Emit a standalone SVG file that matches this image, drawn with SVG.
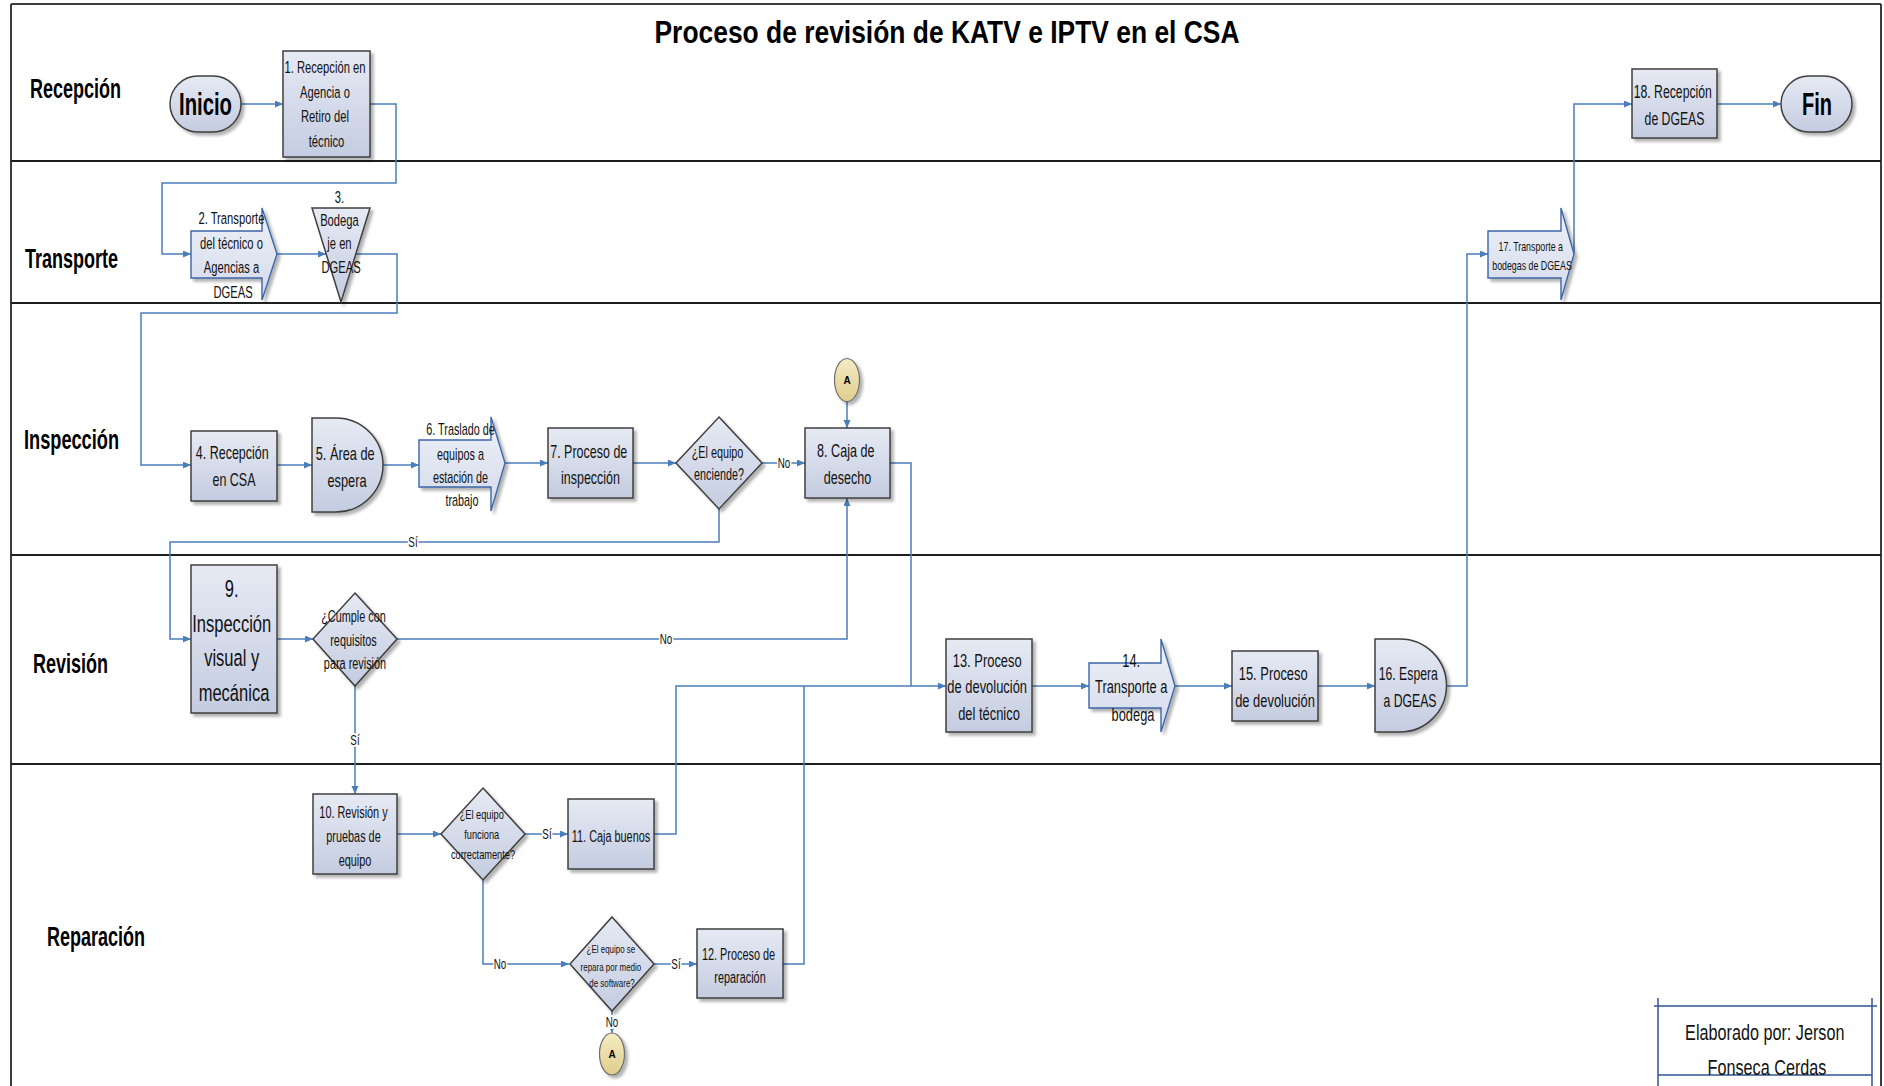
<svg xmlns="http://www.w3.org/2000/svg" width="1884" height="1086" viewBox="0 0 1884 1086">
  <defs>
    <linearGradient id="gBox" x1="0" y1="0" x2="0" y2="1">
      <stop offset="0" stop-color="#e6eaf4"/>
      <stop offset="1" stop-color="#c4cce0"/>
    </linearGradient>
    <linearGradient id="gArrow" x1="0" y1="0" x2="0" y2="1">
      <stop offset="0" stop-color="#eef1f8"/>
      <stop offset="1" stop-color="#d3daeb"/>
    </linearGradient>
    <linearGradient id="gConn" x1="0" y1="0" x2="0" y2="1">
      <stop offset="0" stop-color="#f5ecc4"/>
      <stop offset="1" stop-color="#dfcd8c"/>
    </linearGradient>
    <filter id="shadow" x="-20%" y="-20%" width="150%" height="150%">
      <feDropShadow dx="3" dy="3" stdDeviation="1.6" flood-color="#000" flood-opacity="0.3"/>
    </filter>
    <marker id="arr" markerUnits="userSpaceOnUse" markerWidth="9" markerHeight="8" refX="8" refY="3.5" orient="auto">
      <path d="M0,0 L8,3.5 L0,7 z" fill="#4a7ebb"/>
    </marker>
  </defs>
  <style>
    .lane { stroke: #1e1e1e; stroke-width: 2; fill: none; }
    .frame { stroke: #3c3c3c; stroke-width: 2; fill: none; }
    .box { fill: url(#gBox); stroke: #3f3f3f; stroke-width: 1.5; filter: url(#shadow); }
    .arrowbox { fill: url(#gArrow); stroke: #3d66a8; stroke-width: 1.4; filter: url(#shadow); }
    .conn { fill: url(#gConn); stroke: #6e6e6e; stroke-width: 1.2; filter: url(#shadow); }
    .edge { fill: none; stroke: #4a7ebb; stroke-width: 1.5; }
    .t { font-family: "Liberation Sans", Arial, sans-serif; fill: #111; text-anchor: middle; }
    .b { font-family: "Liberation Sans", Arial, sans-serif; font-weight: bold; fill: #000; }
    .lbl { font-family: "Liberation Sans", Arial, sans-serif; font-size: 14px; fill: #111; text-anchor: middle; stroke: #fff; stroke-width: 4; paint-order: stroke; }
    .sig { stroke: #2f5496; stroke-width: 1.5; fill: none; }
  </style>

  <rect width="1884" height="1086" fill="#fff"/>

  <!-- swimlane frame -->
  <g id="lanes">
    <line class="frame" x1="11" y1="4" x2="1881" y2="4"/>
    <line class="frame" x1="11" y1="4" x2="11" y2="1086"/>
    <line class="frame" x1="1881" y1="4" x2="1881" y2="1086"/>
    <line class="lane" x1="11" y1="161" x2="1881" y2="161"/>
    <line class="lane" x1="11" y1="303" x2="1881" y2="303"/>
    <line class="lane" x1="11" y1="555" x2="1881" y2="555"/>
    <line class="lane" x1="11" y1="764" x2="1881" y2="764"/>
    <text class="b" x="30" y="98" font-size="27" textLength="91" lengthAdjust="spacingAndGlyphs">Recepción</text>
    <text class="b" x="25" y="268" font-size="27" textLength="93" lengthAdjust="spacingAndGlyphs">Transporte</text>
    <text class="b" x="24" y="449" font-size="27" textLength="95" lengthAdjust="spacingAndGlyphs">Inspección</text>
    <text class="b" x="33" y="673" font-size="27" textLength="75" lengthAdjust="spacingAndGlyphs">Revisión</text>
    <text class="b" x="47" y="946" font-size="27" textLength="98" lengthAdjust="spacingAndGlyphs">Reparación</text>
  </g>

  <text id="title" class="b" x="947" y="43" font-size="32" text-anchor="middle" textLength="585" lengthAdjust="spacingAndGlyphs">Proceso de revisión de KATV e IPTV en el CSA</text>

  <!-- connectors -->
  <g id="edges">
    <path class="edge" d="M241,104 H283" marker-end="url(#arr)"/>
    <path class="edge" d="M370,104 H396 V183 H162 V254 H191" marker-end="url(#arr)"/>
    <path class="edge" d="M277,254 H326" marker-end="url(#arr)"/>
    <path class="edge" d="M355,254 H397 V313 H141 V465 H191" marker-end="url(#arr)"/>
    <path class="edge" d="M277,465 H312" marker-end="url(#arr)"/>
    <path class="edge" d="M383,465 H419" marker-end="url(#arr)"/>
    <path class="edge" d="M505,463 H548" marker-end="url(#arr)"/>
    <path class="edge" d="M633,463 H676" marker-end="url(#arr)"/>
    <path class="edge" d="M762,463 H805" marker-end="url(#arr)"/>
    <path class="edge" d="M847,401 V428" marker-end="url(#arr)"/>
    <path class="edge" d="M719,509 V542 H170 V639 H191" marker-end="url(#arr)"/>
    <path class="edge" d="M277,639 H313" marker-end="url(#arr)"/>
    <path class="edge" d="M397,639 H847 V498" marker-end="url(#arr)"/>
    <path class="edge" d="M355,686 V794" marker-end="url(#arr)"/>
    <path class="edge" d="M397,834 H441" marker-end="url(#arr)"/>
    <path class="edge" d="M525,834 H568" marker-end="url(#arr)"/>
    <path class="edge" d="M654,834 H676 V686 H946" marker-end="url(#arr)"/>
    <path class="edge" d="M483,880 V964 H569" marker-end="url(#arr)"/>
    <path class="edge" d="M654,964 H697" marker-end="url(#arr)"/>
    <path class="edge" d="M783,964 H804 V686"/>
    <path class="edge" d="M612,1011 V1033" marker-end="url(#arr)"/>
    <path class="edge" d="M890,463 H911 V686"/>
    <path class="edge" d="M1032,686 H1089" marker-end="url(#arr)"/>
    <path class="edge" d="M1175,686 H1232" marker-end="url(#arr)"/>
    <path class="edge" d="M1318,686 H1375" marker-end="url(#arr)"/>
    <path class="edge" d="M1446,686 H1467 V254 H1488" marker-end="url(#arr)"/>
    <path class="edge" d="M1574,254 V104 H1632" marker-end="url(#arr)"/>
    <path class="edge" d="M1717,104 H1781" marker-end="url(#arr)"/>
    <text class="lbl" transform="translate(784) scale(0.7,1)" x="0" y="468">No</text>
    <text class="lbl" transform="translate(413) scale(0.7,1)" x="0" y="547">Sí</text>
    <text class="lbl" transform="translate(666) scale(0.7,1)" x="0" y="644">No</text>
    <text class="lbl" transform="translate(355) scale(0.7,1)" x="0" y="745">Sí</text>
    <text class="lbl" transform="translate(547) scale(0.7,1)" x="0" y="839">Sí</text>
    <text class="lbl" transform="translate(500) scale(0.7,1)" x="0" y="969">No</text>
    <text class="lbl" transform="translate(676) scale(0.7,1)" x="0" y="969">Sí</text>
    <text class="lbl" transform="translate(612) scale(0.7,1)" x="0" y="1027" font-size="12">No</text>
  </g>

  <!-- Recepción lane -->
  <g id="inicio">
    <rect class="box" x="170" y="76" width="71" height="56" rx="28"/>
    <text class="b" x="205.5" y="115" font-size="32" text-anchor="middle" textLength="53" lengthAdjust="spacingAndGlyphs">Inicio</text>
  </g>
  <g id="n1">
    <rect class="box" x="283" y="51" width="87" height="106"/>
    <text class="t" font-size="16.5" transform="translate(326.5) scale(0.68,1)">
      <tspan x="0" y="73">1. Recepción en</tspan>
      <tspan x="0" y="98">Agencia o</tspan>
      <tspan x="0" y="122">Retiro del</tspan>
      <tspan x="0" y="147">técnico</tspan>
    </text>
  </g>
  <g id="n18">
    <rect class="box" x="1632" y="69" width="85" height="69"/>
    <text class="t" font-size="18" transform="translate(1674.5) scale(0.68,1)">
      <tspan x="0" y="98">18. Recepción</tspan>
      <tspan x="0" y="125">de DGEAS</tspan>
    </text>
  </g>
  <g id="fin">
    <rect class="box" x="1781" y="76" width="71" height="56" rx="28"/>
    <text class="b" x="1817" y="115" font-size="32" text-anchor="middle" textLength="30" lengthAdjust="spacingAndGlyphs">Fin</text>
  </g>

  <!-- Transporte lane -->
  <g id="n2">
    <polygon class="arrowbox" points="191,231 262,231 262,208 277,254 262,300 262,278 191,278"/>
    <text class="t" font-size="16.5" transform="translate(233) scale(0.68,1)">
      <tspan x="0" y="224">2. Transporte</tspan>
      <tspan x="0" y="249">del técnico o</tspan>
      <tspan x="0" y="273">Agencias a</tspan>
      <tspan x="0" y="298">DGEAS</tspan>
    </text>
  </g>
  <g id="n3">
    <polygon class="box" points="312,208 370,208 341,302"/>
    <text class="t" font-size="16.5" transform="translate(341) scale(0.68,1)">
      <tspan x="0" y="203">3.</tspan>
      <tspan x="0" y="226">Bodega</tspan>
      <tspan x="0" y="249">je en</tspan>
      <tspan x="0" y="273">DGEAS</tspan>
    </text>
  </g>
  <g id="n17">
    <polygon class="arrowbox" points="1488,231 1561,231 1561,208 1574,254 1561,300 1561,278 1488,278"/>
    <text class="t" font-size="13" transform="translate(1532) scale(0.68,1)">
      <tspan x="0" y="251">17. Transporte a</tspan>
      <tspan x="0" y="270">bodegas de DGEAS</tspan>
    </text>
  </g>

  <!-- Inspección lane -->
  <g id="n4">
    <rect class="box" x="191" y="431" width="86" height="70"/>
    <text class="t" font-size="18.4" transform="translate(234) scale(0.68,1)">
      <tspan x="0" y="459">4. Recepción</tspan>
      <tspan x="0" y="486">en CSA</tspan>
    </text>
  </g>
  <g id="n5">
    <path class="box" d="M312,418 H336 A47,47 0 0 1 336,512 H312 Z"/>
    <text class="t" font-size="18.8" transform="translate(347) scale(0.68,1)">
      <tspan x="0" y="460">5. Área de</tspan>
      <tspan x="0" y="487">espera</tspan>
    </text>
  </g>
  <g id="n6">
    <polygon class="arrowbox" points="419,440 491,440 491,417 505,463 491,511 491,487 419,487"/>
    <text class="t" font-size="15.9" transform="translate(462) scale(0.68,1)">
      <tspan x="0" y="435">6. Traslado de</tspan>
      <tspan x="0" y="460">equipos a</tspan>
      <tspan x="0" y="483">estación de</tspan>
      <tspan x="0" y="506">trabajo</tspan>
    </text>
  </g>
  <g id="n7">
    <rect class="box" x="548" y="428" width="85" height="70"/>
    <text class="t" font-size="18.4" transform="translate(590.5) scale(0.68,1)">
      <tspan x="0" y="458">7. Proceso de</tspan>
      <tspan x="0" y="484">inspección</tspan>
    </text>
  </g>
  <g id="d1">
    <polygon class="box" points="719,417 762,463 719,509 676,463"/>
    <text class="t" font-size="15.9" transform="translate(719) scale(0.68,1)">
      <tspan x="0" y="458">¿El equipo</tspan>
      <tspan x="0" y="480">enciende?</tspan>
    </text>
  </g>
  <g id="n8">
    <rect class="box" x="805" y="428" width="85" height="70"/>
    <text class="t" font-size="18.5" transform="translate(847.5) scale(0.68,1)">
      <tspan x="0" y="457">8. Caja de</tspan>
      <tspan x="0" y="484">desecho</tspan>
    </text>
  </g>
  <g id="a1">
    <ellipse class="conn" cx="847" cy="380" rx="12.5" ry="21.5"/>
    <text class="b" x="847" y="384" font-size="10" text-anchor="middle">A</text>
  </g>

  <!-- Revisión lane -->
  <g id="n9">
    <rect class="box" x="191" y="565" width="86" height="148"/>
    <text class="t" font-size="24.3" transform="translate(234) scale(0.68,1)">
      <tspan x="0" y="597">9.</tspan>
      <tspan x="0" y="632">Inspección</tspan>
      <tspan x="0" y="666">visual y</tspan>
      <tspan x="0" y="701">mecánica</tspan>
    </text>
  </g>
  <g id="d2">
    <polygon class="box" points="355,593 397,639 355,686 313,639"/>
    <text class="t" font-size="16" transform="translate(355) scale(0.68,1)">
      <tspan x="0" y="622">¿Cumple con</tspan>
      <tspan x="0" y="646">requisitos</tspan>
      <tspan x="0" y="669">para  revisión</tspan>
    </text>
  </g>
  <g id="n13">
    <rect class="box" x="946" y="639" width="86" height="93"/>
    <text class="t" font-size="19" transform="translate(989) scale(0.68,1)">
      <tspan x="0" y="667">13. Proceso</tspan>
      <tspan x="0" y="693">de devolución</tspan>
      <tspan x="0" y="720">del técnico</tspan>
    </text>
  </g>
  <g id="n14">
    <polygon class="arrowbox" points="1089,663 1161,663 1161,639 1175,686 1161,732 1161,708 1089,708"/>
    <text class="t" font-size="18.9" transform="translate(1133) scale(0.68,1)">
      <tspan x="0" y="667">14.</tspan>
      <tspan x="0" y="693">Transporte a</tspan>
      <tspan x="0" y="721">bodega</tspan>
    </text>
  </g>
  <g id="n15">
    <rect class="box" x="1232" y="651" width="86" height="70"/>
    <text class="t" font-size="19" transform="translate(1275) scale(0.68,1)">
      <tspan x="0" y="680">15. Proceso</tspan>
      <tspan x="0" y="707">de devolución</tspan>
    </text>
  </g>
  <g id="n16">
    <path class="box" d="M1375,639 H1400 A46.5,46.5 0 0 1 1400,732 H1375 Z"/>
    <text class="t" font-size="18" transform="translate(1410) scale(0.68,1)">
      <tspan x="0" y="680">16. Espera</tspan>
      <tspan x="0" y="707">a DGEAS</tspan>
    </text>
  </g>

  <!-- Reparación lane -->
  <g id="n10">
    <rect class="box" x="313" y="794" width="84" height="80"/>
    <text class="t" font-size="16" transform="translate(355) scale(0.68,1)">
      <tspan x="0" y="818">10. Revisión y</tspan>
      <tspan x="0" y="842">pruebas de</tspan>
      <tspan x="0" y="866">equipo</tspan>
    </text>
  </g>
  <g id="d3">
    <polygon class="box" points="483,788 525,834 483,880 441,834"/>
    <text class="t" font-size="13.6" transform="translate(483) scale(0.68,1)">
      <tspan x="0" y="819">¿El equipo</tspan>
      <tspan x="0" y="839">funciona</tspan>
      <tspan x="0" y="859">correctamente?</tspan>
    </text>
  </g>
  <g id="n11">
    <rect class="box" x="568" y="799" width="86" height="70"/>
    <text class="t" font-size="16" transform="translate(611) scale(0.68,1)">
      <tspan x="0" y="842">11. Caja buenos</tspan>
    </text>
  </g>
  <g id="d4">
    <polygon class="box" points="612,917 654,964 612,1011 570,964"/>
    <text class="t" font-size="11.7" transform="translate(612) scale(0.68,1)">
      <tspan x="0" y="953">¿El equipo se</tspan>
      <tspan x="0" y="971">repara por medio</tspan>
      <tspan x="0" y="987">de software?</tspan>
    </text>
  </g>
  <g id="n12">
    <rect class="box" x="697" y="929" width="86" height="69"/>
    <text class="t" font-size="16" transform="translate(740) scale(0.68,1)">
      <tspan x="0" y="960">12. Proceso de</tspan>
      <tspan x="0" y="983">reparación</tspan>
    </text>
  </g>
  <g id="a2">
    <ellipse class="conn" cx="612" cy="1054" rx="12.5" ry="21"/>
    <text class="b" x="612" y="1058" font-size="10" text-anchor="middle">A</text>
  </g>

  <!-- author block -->
  <g id="autor">
    <line class="sig" x1="1654" y1="1006" x2="1877" y2="1006"/>
    <line class="sig" x1="1658" y1="1075" x2="1872" y2="1075"/>
    <line class="sig" x1="1658" y1="998" x2="1658" y2="1086"/>
    <line class="sig" x1="1872" y1="998" x2="1872" y2="1086"/>
    <text class="t" font-size="22.5" transform="translate(1767) scale(0.72,1)">
      <tspan x="0" y="1040">Elaborado por: Jerson</tspan>
      <tspan x="0" y="1075">Fonseca Cerdas</tspan>
    </text>
  </g>
</svg>
